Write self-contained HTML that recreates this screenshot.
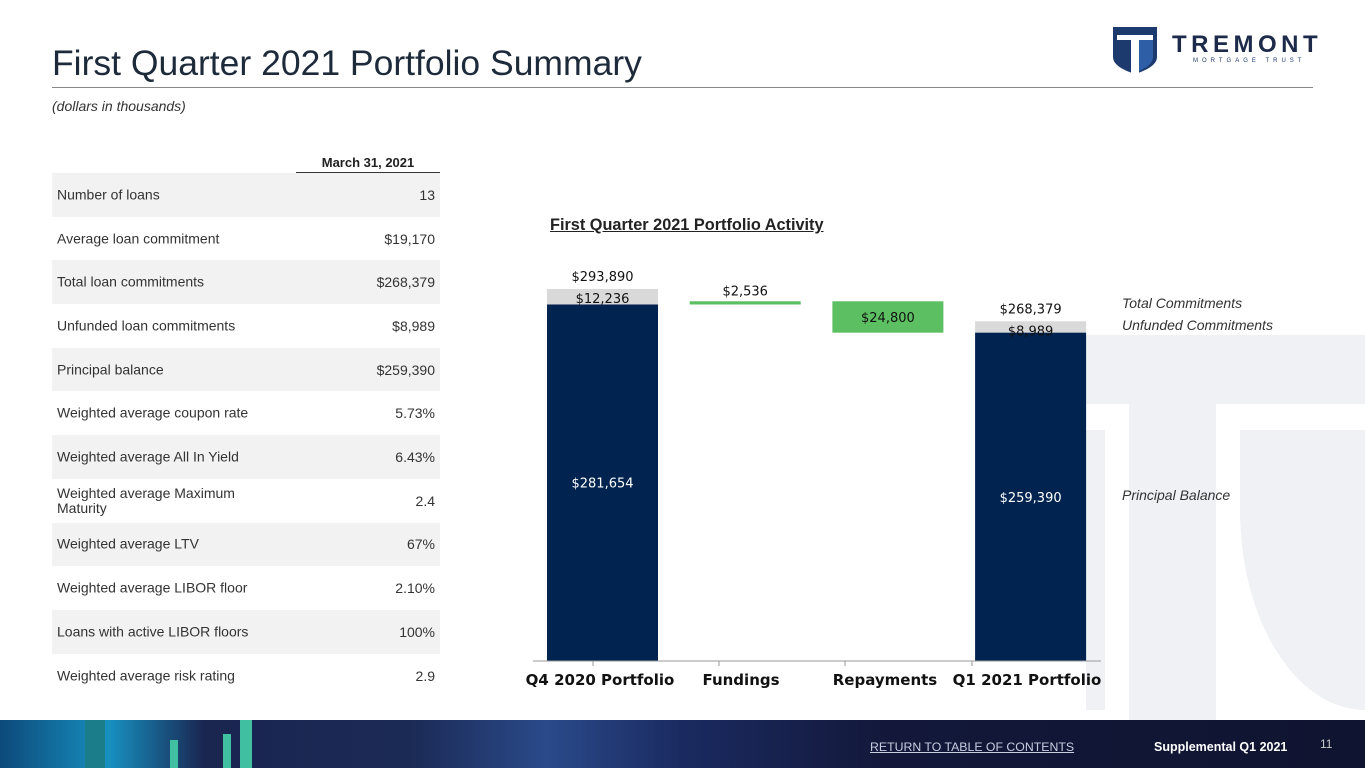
<!DOCTYPE html>
<html><head><meta charset="utf-8"><style>
body{margin:0;width:1365px;height:768px;position:relative;overflow:hidden;background:#fff;font-family:"Liberation Sans",sans-serif;color:#222}
.abs{position:absolute}
.row{position:absolute;left:52px;width:388px;height:43.7px;font-size:14px;color:#333}
.row span{position:absolute;top:50%;transform:translateY(-50%)}
.row .l{left:5px;line-height:15px}
.row .v{right:5px}
.wm{position:absolute;background:#eff1f5}
</style></head><body>
<div class="wm" style="left:1086px;top:335px;width:279px;height:69px"></div>
<div class="wm" style="left:1129px;top:404px;width:87px;height:316px"></div>
<div class="wm" style="left:1086px;top:430px;width:19px;height:280px"></div>
<div class="wm" style="left:1240px;top:430px;width:125px;height:280px;border-bottom-left-radius:125px 200px"></div>

<div class="abs" style="left:52px;top:43px;font-size:35.5px;color:#1d2a3a">First Quarter 2021 Portfolio Summary</div>
<div class="abs" style="left:52px;top:87px;width:1261px;height:1px;background:#888"></div>
<div class="abs" style="left:52px;top:98px;font-size:14px;font-style:italic;color:#333">(dollars in thousands)</div>

<div class="abs" style="left:1113px;top:27px">
<svg width="200" height="48"><path d="M0 0H44V30Q44 40 22 47Q0 40 0 30Z" fill="#1d3a6e"/><rect x="4" y="8" width="36" height="5" fill="#fff"/><rect x="18" y="13" width="8" height="34" fill="#fff"/><path d="M26 13H40V30Q40 38 26 44Z" fill="#2e5ea6"/></svg>
<div class="abs" style="left:59px;top:4px;font-size:24px;font-weight:bold;letter-spacing:4.5px;color:#1d2a4a">TREMONT</div>
<div class="abs" style="left:80px;top:31px;font-size:6px;letter-spacing:4px;color:#1d3a6e;white-space:nowrap">MORTGAGE TRUST</div>
</div>

<div class="abs" style="left:296px;top:155px;width:144px;text-align:center;font-size:13px;font-weight:bold">March 31, 2021</div>
<div class="abs" style="left:296px;top:172px;width:144px;height:2px;background:#333"></div>
<div id="tbl"></div>

<div class="abs" style="left:550px;top:216px;font-size:16.3px;font-weight:bold;text-decoration:underline;color:#222">First Quarter 2021 Portfolio Activity</div>
<svg id="chart" class="abs" style="left:0;top:0" width="1365" height="720"></svg>
<div class="abs" style="left:1122px;top:295px;font-size:14px;font-style:italic;color:#333">Total Commitments</div>
<div class="abs" style="left:1122px;top:317px;font-size:14px;font-style:italic;color:#333">Unfunded Commitments</div>
<div class="abs" style="left:1122px;top:487px;font-size:14px;font-style:italic;color:#333">Principal Balance</div>

<div class="abs" style="left:0;top:720px;width:1365px;height:48px;background:linear-gradient(90deg,#0d4a7a 0%,#1790c0 8%,#1a2550 15%,#1b2a55 30%,#2a4a8a 40%,#1a2a60 50%,#13183a 65%,#0f1430 100%)">
<div class="abs" style="left:85px;top:0;width:20px;height:48px;background:#1b7d8a"></div>
<div class="abs" style="left:170px;top:20px;width:8px;height:28px;background:#40c0a0"></div>
<div class="abs" style="left:223px;top:14px;width:8px;height:34px;background:#40c0a0"></div>
<div class="abs" style="left:240px;top:0;width:12px;height:48px;background:#40c0a0"></div>
<div class="abs" style="left:870px;top:20px;font-size:12.3px;color:#c8cde0;text-decoration:underline">RETURN TO TABLE OF CONTENTS</div>
<div class="abs" style="left:1154px;top:20px;font-size:12.5px;font-weight:bold;color:#fff">Supplemental Q1 2021</div>
<div class="abs" style="left:1320px;top:17px;font-size:12px;color:#ccc">11</div>
</div>

<script>
const rowLabels=["Number of loans","Average loan commitment","Total loan commitments","Unfunded loan commitments","Principal balance","Weighted average coupon rate","Weighted average All In Yield","Weighted average Maximum<br>Maturity","Weighted average LTV","Weighted average LIBOR floor","Loans with active LIBOR floors","Weighted average risk rating"];
const rowValues=["13","$19,170","$268,379","$8,989","$259,390","5.73%","6.43%","2.4","67%","2.10%","100%","2.9"];
const tbl=document.getElementById('tbl');
rowLabels.forEach((l,i)=>{const r=document.createElement('div');r.className='row';


r.style.top=(173+i*43.7)+'px';r.style.background=i%2==0?'#f2f2f2':'#fff';
r.innerHTML='<span class="l">'+l+'</span><span class="v">'+rowValues[i]+'</span>';tbl.appendChild(r);});

const categories=["Q4 2020 Portfolio","Fundings","Repayments","Q1 2021 Portfolio"];
const principal=[281654,null,null,259390];
const unfunded=[12236,null,null,8989];
const fundings=2536, repayments=24800;
const labelX=[600,741,885,1027], tickX=[593,719,845,972];
const base=661, scale=372/293890;
const y=v=>base-v*scale;
const barX=i=>547+i*142.7, bw=111;
const svg=document.getElementById('chart');const NS='http://www.w3.org/2000/svg';
function el(t,a){const e=document.createElementNS(NS,t);for(const k in a)e.setAttribute(k,a[k]);svg.appendChild(e);return e;}
function txt(x,yy,s,o){const e=el('text',Object.assign({x:x,y:yy,'text-anchor':'middle','font-family':'DejaVu Sans, sans-serif','font-size':13,fill:'#111'},o||{}));e.textContent=s;return e;}
const fmt=v=>'$'+v.toLocaleString('en-US');
[0,3].forEach(i=>{
 const p=principal[i],u=unfunded[i],x=barX(i);
 let r=el('rect',{x:x,y:y(p+u),width:bw,height:u*scale,fill:'#d9d9d9'});
 
 
 r=el('rect',{x:x,y:y(p),width:bw,height:p*scale,fill:'#00234f'});
 
 
 txt(x+bw/2,y(p+u)-8,fmt(p+u));
 txt(x+bw/2,y(p+u)+14,fmt(u));
 txt(x+bw/2,y(p/2)+5,fmt(p),{fill:'#fff'});
});
const startF=principal[0];
let f=el('rect',{x:barX(1),y:y(startF+fundings),width:bw,height:Math.max(3,fundings*scale),fill:'#5cbf62'});


txt(barX(1)+bw/2,y(startF+fundings)-6,fmt(fundings));
const topR=startF+fundings;
let rp=el('rect',{x:barX(2),y:y(topR),width:bw,height:repayments*scale,fill:'#5cbf62'});


txt(barX(2)+bw/2,y(topR-repayments/2)+5,fmt(repayments));
let ax=el('line',{x1:533,x2:1101,y1:base,y2:base,stroke:'#999','stroke-width':1});


tickX.forEach(t=>el('line',{x1:t,x2:t,y1:base,y2:base+5,stroke:'#999'}));
categories.forEach((c,i)=>{const t=txt(labelX[i],685,c,{'font-weight':'bold','font-size':15});
 
 });
</script>
</body></html>
